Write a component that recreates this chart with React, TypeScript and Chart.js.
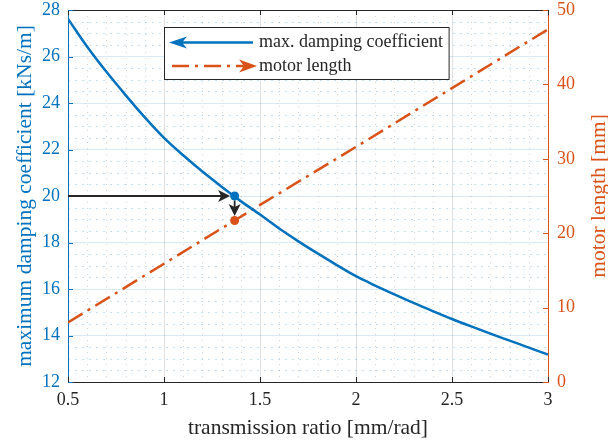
import React, { useEffect, useRef } from 'react';
import { Chart, registerables } from 'chart.js';

Chart.register(...registerables);

// ---------------- data ----------------
const ratio = [0.5, 0.6, 0.7, 0.8, 0.9, 1.0, 1.1, 1.2, 1.3, 1.4, 1.5, 1.6, 1.7, 1.8, 1.9, 2.0, 2.1, 2.2, 2.3, 2.4, 2.5, 2.6, 2.7, 2.8, 2.9, 3.0];
const dampingCoefficient = [27.62, 26.42, 25.34, 24.34, 23.38, 22.5, 21.75, 21.05, 20.4, 19.78, 19.2, 18.6, 18.05, 17.53, 17.03, 16.55, 16.15, 15.77, 15.4, 15.05, 14.71, 14.39, 14.08, 13.78, 13.48, 13.18];
const motorRatio = [0.5, 1.0, 1.5, 2.0, 2.5, 3.0];
const motorLength = [8.0, 15.9, 23.8, 31.6, 39.5, 47.4];

const markerRatio = [1.368];
const markerDamping = [20];
const markerMotor = [21.7];
const arrowStartRatio = 0.5;

const xTicks = [0.5, 1, 1.5, 2, 2.5, 3];
const leftTicks = [12, 14, 16, 18, 20, 22, 24, 26, 28];
const rightTicks = [0, 10, 20, 30, 40, 50];

const labels = {
  damping: 'max. damping coefficient',
  motor: 'motor length',
  xTitle: 'transmission ratio [mm/rad]',
  yTitle: 'maximum damping coefficient [kNs/m]',
  y1Title: 'motor length [mm]',
};

// ---------------- styles ----------------
const BLUE = '#0072BD';
const RED = '#D95319';
const DARK = '#262626';
const FONT = "'Liberation Serif', 'Times New Roman', serif";
const TICK_SIZE = 18;
const TITLE_SIZE = 21.5;
const DASHDOT = [17, 6, 3, 6];

function arrowHead(ctx: CanvasRenderingContext2D, tx: number, ty: number, dx: number, dy: number, len: number, half: number, notch: number) {
  const px = -dy, py = dx;
  const bx = tx - dx * len, by = ty - dy * len;
  const nx = tx - dx * notch, ny = ty - dy * notch;
  ctx.beginPath();
  ctx.moveTo(tx, ty);
  ctx.lineTo(bx + px * half, by + py * half);
  ctx.lineTo(nx, ny);
  ctx.lineTo(bx - px * half, by - py * half);
  ctx.closePath();
  ctx.fill();
}

const decor = {
  id: 'decor',
  beforeDatasetsDraw(chart: any) {
    const { ctx, chartArea: a, scales } = chart;
    const x = scales.x, y = scales.y;
    ctx.save();
    ctx.lineWidth = 1;
    // minor vertical grid (x every 0.1)
    ctx.strokeStyle = 'rgba(38,38,38,0.2)';
    ctx.setLineDash([1, 5]);
    for (let i = 1; i < 25; i++) {
      if (i % 5 === 0) continue;
      const v = 0.5 + i * 0.1;
      const px = Math.round(x.getPixelForValue(v)) + 0.5;
      ctx.beginPath();
      ctx.moveTo(px, a.top);
      ctx.lineTo(px, a.bottom);
      ctx.stroke();
    }
    // minor horizontal grid (y every 0.5)
    ctx.strokeStyle = 'rgba(0,114,189,0.22)';
    ctx.setLineDash([2, 5]);
    for (let i = 1; i < 32; i++) {
      if (i % 4 === 0) continue;
      const v = 12 + i * 0.5;
      const py = Math.round(y.getPixelForValue(v)) + 0.5;
      ctx.beginPath();
      ctx.moveTo(a.left, py);
      ctx.lineTo(a.right, py);
      ctx.stroke();
    }
    ctx.restore();
  },
  afterDatasetsDraw(chart: any) {
    const { ctx, chartArea: a, scales } = chart;
    const x = scales.x, y = scales.y, y1 = scales.y1;
    ctx.save();
    ctx.setLineDash([]);
    // top border
    ctx.strokeStyle = DARK;
    ctx.lineWidth = 1;
    ctx.beginPath();
    ctx.moveTo(a.left, Math.round(a.top) + 0.5);
    ctx.lineTo(a.right, Math.round(a.top) + 0.5);
    ctx.stroke();
    // x ticks (inward, bottom & top)
    const TL = 5;
    xTicks.forEach((v) => {
      const px = Math.round(x.getPixelForValue(v)) + 0.5;
      ctx.beginPath();
      ctx.moveTo(px, a.bottom);
      ctx.lineTo(px, a.bottom - TL);
      ctx.moveTo(px, a.top);
      ctx.lineTo(px, a.top + TL);
      ctx.stroke();
    });
    ctx.strokeStyle = BLUE;
    leftTicks.forEach((v) => {
      const py = Math.round(y.getPixelForValue(v)) + 0.5;
      ctx.beginPath();
      ctx.moveTo(a.left, py);
      ctx.lineTo(a.left + TL, py);
      ctx.stroke();
    });
    ctx.strokeStyle = RED;
    rightTicks.forEach((v) => {
      const py = Math.round(y1.getPixelForValue(v)) + 0.5;
      ctx.beginPath();
      ctx.moveTo(a.right, py);
      ctx.lineTo(a.right - TL, py);
      ctx.stroke();
    });

    // arrows
    const mx = x.getPixelForValue(markerRatio[0]);
    const my = y.getPixelForValue(markerDamping[0]);
    const ry = y1.getPixelForValue(markerMotor[0]);
    const sx = x.getPixelForValue(arrowStartRatio);
    const R = 4.5;
    ctx.strokeStyle = DARK;
    ctx.fillStyle = DARK;
    ctx.lineWidth = 1.8;
    ctx.beginPath();
    ctx.moveTo(sx, my);
    ctx.lineTo(mx - R - 6, my);
    ctx.stroke();
    arrowHead(ctx, mx - R, my, 1, 0, 12, 6, 9);
    ctx.beginPath();
    ctx.moveTo(mx, my + R);
    ctx.lineTo(mx, ry - R - 6);
    ctx.stroke();
    arrowHead(ctx, mx, ry - R, 0, 1, 12, 6, 9);

    // markers
    ctx.fillStyle = BLUE;
    ctx.beginPath();
    ctx.arc(mx, my, R, 0, Math.PI * 2);
    ctx.fill();
    ctx.fillStyle = RED;
    ctx.beginPath();
    ctx.arc(mx, ry, R, 0, Math.PI * 2);
    ctx.fill();

    // right axis title (reads bottom to top)
    ctx.save();
    ctx.translate(599, (a.top + a.bottom) / 2);
    ctx.rotate(-Math.PI / 2);
    ctx.fillStyle = RED;
    ctx.font = `${TITLE_SIZE}px ${FONT}`;
    ctx.textAlign = 'center';
    ctx.textBaseline = 'middle';
    ctx.fillText(labels.y1Title, 0, 0);
    ctx.restore();

    // legend
    ctx.font = `${TICK_SIZE}px ${FONT}`;
    const w1 = ctx.measureText(labels.damping).width;
    const bx = 164.5, by = 27.5, bh = 52;
    const tx = 259;
    const bw = tx + w1 + 6 - bx;
    ctx.fillStyle = '#ffffff';
    ctx.fillRect(bx, by, bw, bh);
    ctx.strokeStyle = DARK;
    ctx.lineWidth = 1;
    ctx.strokeRect(bx, by, bw, bh);
    const l1 = by + 15, l2 = by + 38.5;
    ctx.strokeStyle = BLUE;
    ctx.fillStyle = BLUE;
    ctx.lineWidth = 2.5;
    ctx.beginPath();
    ctx.moveTo(180, l1);
    ctx.lineTo(253, l1);
    ctx.stroke();
    arrowHead(ctx, 169, l1, -1, 0, 18, 6, 13);
    ctx.strokeStyle = RED;
    ctx.fillStyle = RED;
    ctx.setLineDash(DASHDOT);
    ctx.beginPath();
    ctx.moveTo(172, l2);
    ctx.lineTo(244, l2);
    ctx.stroke();
    ctx.setLineDash([]);
    arrowHead(ctx, 257, l2, 1, 0, 18, 6.5, 13);
    ctx.fillStyle = DARK;
    ctx.textAlign = 'left';
    ctx.textBaseline = 'middle';
    ctx.fillText(labels.damping, tx, l1);
    ctx.fillText(labels.motor, tx, l2);
    ctx.restore();
  },
};

function zeroPad(s: any) {
  s.paddingTop = 0;
  s.paddingBottom = 0;
  s.paddingLeft = 0;
  s.paddingRight = 0;
}

export default function App() {
  const ref = useRef<HTMLCanvasElement | null>(null);

  useEffect(() => {
    if (!ref.current) return;
    const chart = new Chart(ref.current, {
      type: 'line',
      data: {
        datasets: [
          {
            label: labels.damping,
            data: ratio.map((r, i) => ({ x: r, y: dampingCoefficient[i] })),
            borderColor: BLUE,
            borderWidth: 2.5,
            pointRadius: 0,
            cubicInterpolationMode: 'monotone',
            yAxisID: 'y',
          },
          {
            label: labels.motor,
            data: motorRatio.map((r, i) => ({ x: r, y: motorLength[i] })),
            borderColor: RED,
            borderWidth: 2.5,
            borderDash: DASHDOT,
            pointRadius: 0,
            yAxisID: 'y1',
          },
        ],
      },
      options: {
        animation: false,
        responsive: false,
        maintainAspectRatio: false,
        layout: { padding: { top: 10, left: 0, right: 0, bottom: 0 } },
        plugins: { legend: { display: false }, tooltip: { enabled: false } },
        scales: {
          x: {
            type: 'linear',
            position: 'bottom',
            min: 0.5,
            max: 3,
            afterBuildTicks: (s: any) => {
              s.ticks = xTicks.map((v) => ({ value: v }));
            },
            ticks: {
              color: DARK,
              font: { family: FONT, size: TICK_SIZE, lineHeight: 1 },
              padding: 9,
              maxRotation: 0,
              autoSkip: false,
              callback: (v: any) => String(v),
            },
            grid: { color: '#e0e0e0', drawTicks: false, lineWidth: 1 },
            border: { color: DARK, width: 1 },
            title: {
              display: true,
              text: labels.xTitle,
              color: DARK,
              font: { family: FONT, size: TITLE_SIZE, lineHeight: 1 },
              padding: { top: 0, bottom: 4 },
            },
            afterFit: (s: any) => {
              s.height = 61;
              zeroPad(s);
            },
          },
          y: {
            type: 'linear',
            position: 'left',
            min: 12,
            max: 28,
            afterBuildTicks: (s: any) => {
              s.ticks = leftTicks.map((v) => ({ value: v }));
            },
            ticks: {
              color: BLUE,
              font: { family: FONT, size: TICK_SIZE, lineHeight: 1 },
              padding: 8,
              callback: (v: any) => String(v),
            },
            grid: { color: 'rgba(0,114,189,0.15)', drawTicks: false, lineWidth: 1 },
            border: { color: BLUE, width: 1 },
            title: {
              display: true,
              text: labels.yTitle,
              color: BLUE,
              font: { family: FONT, size: TITLE_SIZE, lineHeight: 1 },
              padding: { top: 15, bottom: 0 },
            },
            afterFit: (s: any) => {
              s.width = 68;
              zeroPad(s);
            },
          },
          y1: {
            type: 'linear',
            position: 'right',
            min: 0,
            max: 50,
            afterBuildTicks: (s: any) => {
              s.ticks = rightTicks.map((v) => ({ value: v }));
            },
            ticks: {
              color: RED,
              font: { family: FONT, size: TICK_SIZE, lineHeight: 1 },
              padding: 9,
              callback: (v: any) => String(v),
            },
            grid: { display: false, drawTicks: false },
            border: { color: RED, width: 1 },
            title: { display: false },
            afterFit: (s: any) => {
              s.width = 60;
              zeroPad(s);
            },
          },
        },
      },
      plugins: [decor],
    } as any);
    return () => chart.destroy();
  }, []);

  return (
    <div style={{ position: 'fixed', left: 0, top: 0, width: 608, height: 443, background: '#fff' }}>
      <canvas ref={ref} width={608} height={443} style={{ display: 'block' }} />
    </div>
  );
}
